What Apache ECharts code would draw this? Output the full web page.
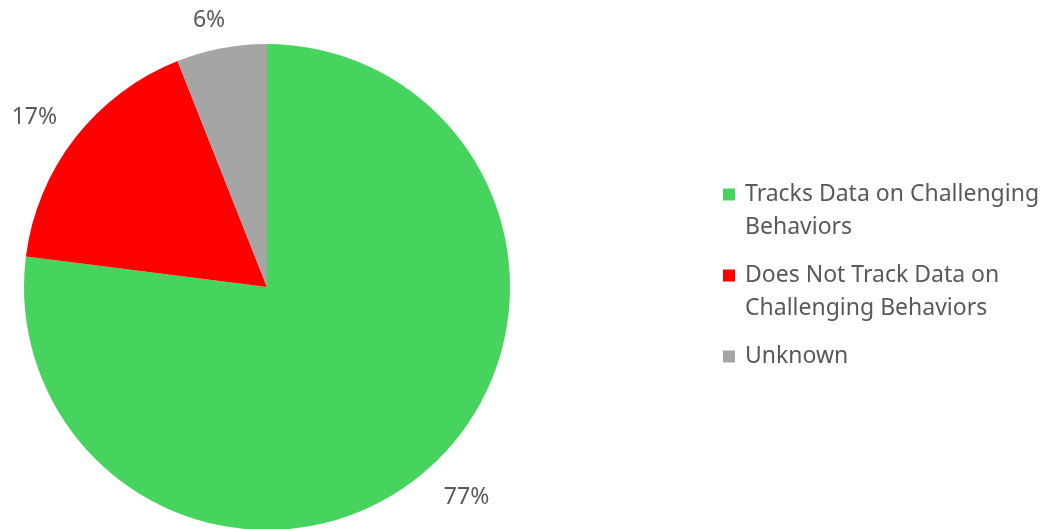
<!DOCTYPE html>
<html>
<head>
<meta charset="utf-8">
<script src="https://cdn.jsdelivr.net/npm/echarts@6/dist/echarts.min.js"></script>
<style>
  html, body { margin: 0; padding: 0; background: #ffffff; }
  #chart { width: 1047px; height: 529px; }
</style>
</head>
<body>
<div id="chart"></div>
<script>
// Share of programs by whether they track data on challenging behaviors
const categories = [
  'Tracks Data on Challenging Behaviors',
  'Does Not Track Data on Challenging Behaviors',
  'Unknown'
];
const legendLabels = [
  'Tracks Data on Challenging\nBehaviors',
  'Does Not Track Data on\nChallenging Behaviors',
  'Unknown'
];
const values = [77, 17, 6];
const colors = ['#47d45e', '#ff0000', '#a5a5a5'];

const textColor = '#595959';
const fontFamily = '"Noto Sans", "Open Sans", sans-serif';
// Distance from the rim to each percentage label
const labelOffsets = [38, 34, 28];

const chart = echarts.init(document.getElementById('chart'), null, { renderer: 'canvas' });

const seriesData = categories.map((name, i) => ({
  name: name,
  value: values[i],
  itemStyle: { color: colors[i] },
  labelLine: { show: false, length: labelOffsets[i], length2: 0 }
}));

// Every legend entry is laid out as three lines (blank above, text, blank below
// for single-line entries) so the marker lines up with the first text line.
function legendText(label) {
  return label.indexOf('\n') >= 0 ? ' \n' + label : ' \n' + label + '\n ';
}

chart.setOption({
  animation: false,
  backgroundColor: '#ffffff',
  legend: {
    orient: 'vertical',
    left: 723,
    top: 145,
    padding: 0,
    itemGap: -18,
    itemWidth: 12,
    itemHeight: 12,
    icon: 'rect',
    data: categories,
    formatter: function (name) {
      return legendText(legendLabels[categories.indexOf(name)]);
    },
    textStyle: {
      color: textColor,
      fontSize: 23,
      lineHeight: 33,
      fontFamily: fontFamily,
      padding: [0, 0, 0, 5]
    }
  },
  series: [{
    type: 'pie',
    center: [267, 287],
    radius: [0, 243],
    startAngle: 90,
    clockwise: true,
    silent: true,
    data: seriesData,
    label: {
      show: true,
      position: 'outside',
      formatter: '{c}%',
      color: textColor,
      fontSize: 23,
      fontFamily: fontFamily,
      distanceToLabelLine: -9
    },
    labelLine: {
      show: false,
      length: 38,
      length2: 0
    },
    itemStyle: { borderWidth: 0 }
  }]
});
</script>
</body>
</html>
